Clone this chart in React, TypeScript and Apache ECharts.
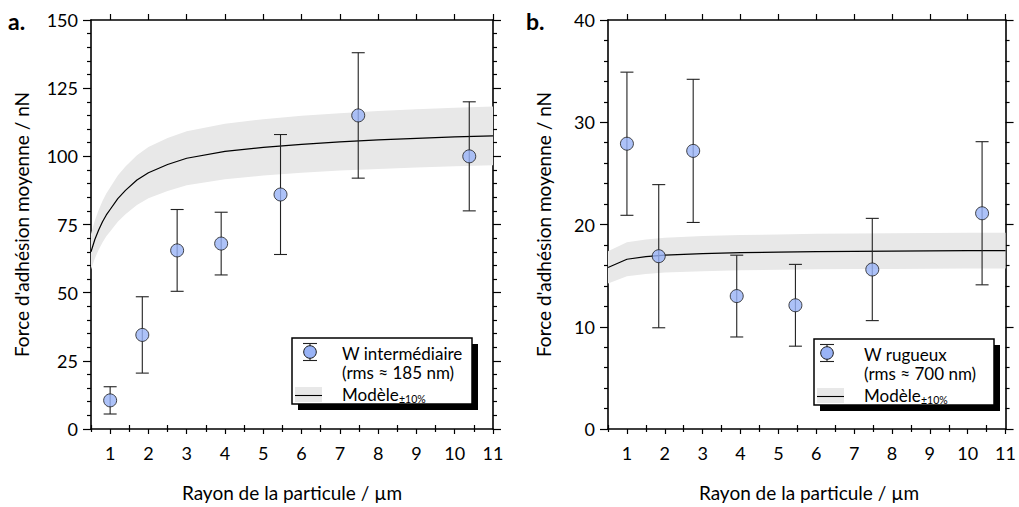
import React, { useEffect, useRef } from "react";
import * as echarts from "echarts";

const FONT = "Lato";

const X_TICKS = [1, 2, 3, 4, 5, 6, 7, 8, 9, 10, 11];
const X_MINOR = [0.5, 1.5, 2.5, 3.5, 4.5, 5.5, 6.5, 7.5, 8.5, 9.5, 10.5];

const RADIUS = [1.0, 1.84, 2.75, 3.9, 5.45, 7.48, 10.38];

const FORCE_A = [10.5, 34.5, 65.5, 68, 86, 115, 100];
const ERR_A_LOW = [5.5, 20.5, 50.5, 56.5, 64, 92, 80];
const ERR_A_HIGH = [15.5, 48.5, 80.5, 79.5, 108, 138, 120];

const FORCE_B = [27.9, 16.9, 27.2, 13.0, 12.1, 15.6, 21.1];
const ERR_B_LOW = [20.9, 9.9, 20.2, 9.0, 8.1, 10.6, 14.1];
const ERR_B_HIGH = [34.9, 23.9, 34.2, 17.0, 16.1, 20.6, 28.1];

const MODEL_X_A = [0.5, 0.6, 0.7, 0.8, 0.9, 1.0, 1.2, 1.4, 1.7, 2.0, 2.5, 3, 4, 5, 6, 7, 8, 9, 10, 11];
const MODEL_A = [65, 69.5, 73, 76, 78.5, 80.5, 84.5, 87.5, 91.3, 94, 97, 99.3, 101.8, 103.3, 104.4, 105.3, 106, 106.6, 107.1, 107.5];

const MODEL_X_B = [0.5, 1, 1.5, 2, 3, 4, 5, 6, 7, 8, 9, 10, 11];
const MODEL_B = [15.8, 16.6, 16.85, 17.0, 17.15, 17.25, 17.3, 17.35, 17.38, 17.4, 17.42, 17.44, 17.45];

const BAND = 0.1; // ±10%

const Y_A = { max: 150, interval: 25 };
const Y_B = { max: 40, interval: 10 };

const LEGEND_A = ["W intermédiaire", "(rms ≈ 185 nm)", "Modèle", "±10%"];
const LEGEND_B = ["W rugueux", "(rms ≈ 700 nm)", "Modèle", "±10%"];

const Y_TITLE = "Force d'adhésion moyenne / nN";
const X_TITLE = "Rayon de la particule / µm";

const lineStyle = { color: "#000", width: 1.6 };
const tickStyle = { color: "#000", width: 1.2 };

function xAxes(g: number) {
  const base: any = {
    type: "value",
    gridIndex: g,
    min: 0.5,
    max: 11,
    splitLine: { show: false },
    axisLine: { show: true, onZero: false, lineStyle },
  };
  return [
    {
      ...base,
      position: "bottom",
      axisTick: { show: true, customValues: X_TICKS, length: 5, lineStyle: tickStyle },
      axisLabel: {
        show: true,
        customValues: X_TICKS,
        margin: 15,
        fontSize: 18,
        color: "#000",
        fontFamily: FONT,
      },
    },
    {
      ...base,
      position: "bottom",
      axisLine: { show: false },
      axisTick: { show: true, customValues: X_MINOR, length: 3, lineStyle: tickStyle },
      axisLabel: { show: false },
    },
    {
      ...base,
      position: "top",
      axisTick: { show: true, customValues: X_TICKS, length: 6, lineStyle: tickStyle },
      axisLabel: { show: false },
    },
    {
      ...base,
      position: "top",
      axisLine: { show: false },
      axisTick: { show: true, customValues: X_MINOR, length: 4, lineStyle: tickStyle },
      axisLabel: { show: false },
    },
  ];
}

function yAxes(g: number, cfg: { max: number; interval: number }) {
  const base: any = {
    type: "value",
    gridIndex: g,
    min: 0,
    max: cfg.max,
    interval: cfg.interval,
    splitLine: { show: false },
    minorSplitLine: { show: false },
    axisLine: { show: true, onZero: false, lineStyle },
    axisTick: { show: true, length: 8, lineStyle: tickStyle },
    minorTick: { show: true, splitNumber: 5, length: 4, lineStyle: tickStyle },
  };
  return [
    {
      ...base,
      position: "left",
      axisLabel: { show: true, margin: 13, fontSize: 18, color: "#000", fontFamily: FONT },
    },
    { ...base, position: "right", axisLabel: { show: false } },
  ];
}

function seriesFor(
  g: number,
  mx: number[],
  my: number[],
  force: number[],
  lo: number[],
  hi: number[]
) {
  const xi = g * 4;
  const yi = g * 2;
  return [
    {
      type: "custom",
      xAxisIndex: xi,
      yAxisIndex: yi,
      silent: true,
      z: 1,
      data: [[mx[0], my[0]]],
      renderItem: (_p: any, api: any) => {
        const upper = mx.map((x, i) => api.coord([x, my[i] * (1 + BAND)]));
        const lower = mx.map((x, i) => api.coord([x, my[i] * (1 - BAND)])).reverse();
        return {
          type: "polygon",
          shape: { points: upper.concat(lower) },
          style: { fill: "#e8e8e8" },
        };
      },
    },
    {
      type: "line",
      xAxisIndex: xi,
      yAxisIndex: yi,
      silent: true,
      z: 2,
      showSymbol: false,
      data: mx.map((x, i) => [x, my[i]]),
      lineStyle: { color: "#000", width: 1.2 },
    },
    {
      type: "custom",
      xAxisIndex: xi,
      yAxisIndex: yi,
      silent: true,
      z: 3,
      encode: { x: 0, y: [1, 2] },
      data: RADIUS.map((x, i) => [x, lo[i], hi[i]]),
      renderItem: (_p: any, api: any) => {
        const x = api.value(0);
        const pLo = api.coord([x, api.value(1)]);
        const pHi = api.coord([x, api.value(2)]);
        const w = 6.5;
        const style = { stroke: "#222", lineWidth: 1.1 };
        return {
          type: "group",
          children: [
            { type: "line", shape: { x1: pLo[0], y1: pLo[1], x2: pHi[0], y2: pHi[1] }, style },
            { type: "line", shape: { x1: pLo[0] - w, y1: pLo[1], x2: pLo[0] + w, y2: pLo[1] }, style },
            { type: "line", shape: { x1: pHi[0] - w, y1: pHi[1], x2: pHi[0] + w, y2: pHi[1] }, style },
          ],
        };
      },
    },
    {
      type: "scatter",
      xAxisIndex: xi,
      yAxisIndex: yi,
      silent: true,
      z: 4,
      symbol: "circle",
      symbolSize: 13,
      data: RADIUS.map((x, i) => [x, force[i]]),
      itemStyle: { color: "#99b3f6", borderColor: "#1a1a1a", borderWidth: 1 },
    },
  ];
}

function legendGraphic(bx: number, by: number, sx: number, labels: string[]) {
  const w = 180;
  const h = 66;
  const tx = bx + 50;
  const txt = (text: string, x: number, y: number, size: number) => ({
    type: "text",
    x,
    y,
    style: { text, fill: "#000", font: `${size}px ${FONT}`, verticalAlign: "middle", align: "left" },
  });
  const lineS = { stroke: "#222", lineWidth: 1.1 };
  return [
    { type: "rect", shape: { x: bx + 6, y: by + 6, width: w, height: h }, style: { fill: "#000" } },
    {
      type: "rect",
      shape: { x: bx, y: by, width: w, height: h },
      style: { fill: "#fff", stroke: "#000", lineWidth: 1.5 },
    },
    { type: "line", shape: { x1: sx, y1: by + 5.5, x2: sx, y2: by + 22.5 }, style: lineS },
    { type: "line", shape: { x1: sx - 7, y1: by + 5.5, x2: sx + 7, y2: by + 5.5 }, style: lineS },
    { type: "line", shape: { x1: sx - 7, y1: by + 22.5, x2: sx + 7, y2: by + 22.5 }, style: lineS },
    {
      type: "circle",
      shape: { cx: sx, cy: by + 14, r: 6.3 },
      style: { fill: "#99b3f6", stroke: "#1a1a1a", lineWidth: 1 },
    },
    { type: "rect", shape: { x: bx + 3, y: by + 49, width: 27, height: 15 }, style: { fill: "#e8e8e8" } },
    { type: "line", shape: { x1: bx + 3, y1: by + 57.5, x2: bx + 30, y2: by + 57.5 }, style: { stroke: "#000", lineWidth: 1.1 } },
    txt(labels[0], tx, by + 15, 17),
    txt(labels[1], tx, by + 34, 17),
    txt(labels[2], tx, by + 56, 17),
    txt(labels[3], tx + 57, by + 61, 10.5),
  ];
}

function titleGraphics() {
  const t = (text: string, x: number, y: number, rot: number, font: string, align = "center") => ({
    type: "text",
    x,
    y,
    rotation: rot,
    style: { text, fill: "#000", font, align, verticalAlign: "middle" },
  });
  return [
    t("a.", 8, 21, 0, `bold 23px ${FONT}`, "left"),
    t("b.", 526, 21, 0, `bold 23px ${FONT}`, "left"),
    t(Y_TITLE, 21, 224.5, Math.PI / 2, `19px ${FONT}`),
    t(Y_TITLE, 543, 224.5, Math.PI / 2, `19px ${FONT}`),
    t(X_TITLE, 292, 492, 0, `19px ${FONT}`),
    t(X_TITLE, 809, 492, 0, `19px ${FONT}`),
  ];
}

export default function App() {
  const ref = useRef<HTMLDivElement>(null);
  useEffect(() => {
    if (!ref.current) return;
    const chart = echarts.init(ref.current, undefined, { renderer: "svg" });
    const option: any = {
      animation: false,
      backgroundColor: "#fff",
      textStyle: { fontFamily: FONT },
      grid: [
        { left: 91, top: 20, width: 402, height: 409 },
        { left: 608, top: 20, width: 402, height: 409 },
      ],
      xAxis: [...xAxes(0), ...xAxes(1)],
      yAxis: [...yAxes(0, Y_A), ...yAxes(1, Y_B)],
      series: [
        ...seriesFor(0, MODEL_X_A, MODEL_A, FORCE_A, ERR_A_LOW, ERR_A_HIGH),
        ...seriesFor(1, MODEL_X_B, MODEL_B, FORCE_B, ERR_B_LOW, ERR_B_HIGH),
      ],
      graphic: {
        elements: [
          ...titleGraphics(),
          ...legendGraphic(292, 338, 310, LEGEND_A),
          ...legendGraphic(814, 339, 827, LEGEND_B),
        ],
      },
    };
    chart.setOption(option);
    return () => chart.dispose();
  }, []);
  return (
    <div
      ref={ref}
      style={{ position: "fixed", left: 0, top: 0, width: 1019, height: 507, background: "#fff" }}
    />
  );
}
